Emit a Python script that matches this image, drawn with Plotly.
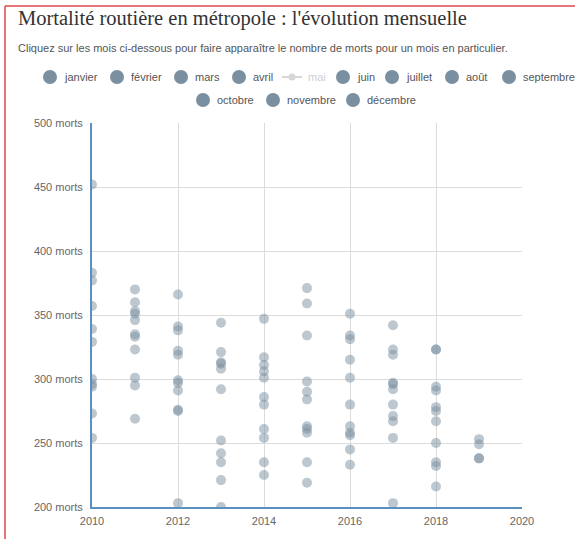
import plotly.graph_objects as go

# ---------------- data ----------------
years = [2010, 2011, 2012, 2013, 2014, 2015, 2016, 2017, 2018, 2019]
months = ["janvier", "février", "mars", "avril", "mai", "juin", "juillet",
          "août", "septembre", "octobre", "novembre", "décembre"]

janvier   = [273, 301, 276, 235, 254, 235, 245, 267, 235, 238]
fevrier   = [254, 269, 203, 200, 225, 219, 233, 203, 216, 238]
mars      = [296, 295, 291, 221, 235, 258, 256, 254, 232, 249]
avril     = [294, 323, 275, 242, 261, 263, 258, 271, 250, 253]
mai       = [340, 327, 326, 228, 261, 289, 310, 304, 264, None]
juin      = [357, 346, 341, 292, 311, 290, 315, 319, 275, None]
juillet   = [383, 353, 366, 344, 347, 371, 334, 342, 323, None]
aout      = [452, 370, 338, 321, 306, 359, 351, 323, 323, None]
septembre = [339, 360, 322, 313, 317, 298, 331, 296, 294, None]
octobre   = [329, 351, 319, 312, 301, 334, 301, 297, 291, None]
novembre  = [300, 333, 297, 252, 280, 261, 263, 280, 278, None]
decembre  = [377, 335, 299, 308, 286, 284, 280, 292, 267, None]

series = [janvier, fevrier, mars, avril, mai, juin, juillet, aout,
          septembre, octobre, novembre, decembre]

y_ticks = [200, 250, 300, 350, 400, 450, 500]
y_tick_labels = [f"{v} morts" for v in y_ticks]
x_ticks = [2010, 2012, 2014, 2016, 2018, 2020]

# ---------------- style ----------------
W, H = 575, 539
L, R, T, B = 92, 53, 123, 32
PW, PH = W - L - R, H - T - B
SLATE = "#7a8fa0"
FONT = "Arial, Liberation Sans, sans-serif"


def px(x):
    return (x - L) / PW


def py(y):
    return (H - B - y) / PH


fig = go.Figure()
for name, vals in zip(months, series):
    fig.add_trace(go.Scatter(
        x=years, y=vals, name=name, mode="markers",
        visible="legendonly" if name == "mai" else True,
        marker=dict(size=10, color=SLATE, opacity=0.5, line=dict(width=0)),
        hovertemplate="%{x} – " + name + " : %{y} morts<extra></extra>",
        showlegend=False,
    ))

annotations = []
shapes = []

# title and subtitle
annotations.append(dict(
    text="Mortalité routière en métropole : l'évolution mensuelle",
    x=px(16), y=py(18), xref="paper", yref="paper", xanchor="left", yanchor="middle",
    showarrow=False, font=dict(family="Liberation Serif, Times New Roman, serif", size=20.5, color="#333333")))
annotations.append(dict(
    text="Cliquez sur les mois ci-dessous pour faire apparaître le nombre de morts pour un mois en particulier.",
    x=px(16), y=py(48), xref="paper", yref="paper", xanchor="left", yanchor="middle",
    showarrow=False, font=dict(family=FONT, size=11, color="#555555")))

# custom legend (circle centre x, row y)
legend_pos = {
    "janvier": (50, 77), "février": (117, 77), "mars": (181, 77), "avril": (239, 77),
    "mai": (292, 77), "juin": (343, 77), "juillet": (392, 77), "août": (452, 77),
    "septembre": (509, 77), "octobre": (203, 100), "novembre": (273, 100), "décembre": (353, 100),
}
for name in months:
    cx, cy = legend_pos[name]
    if name == "mai":
        shapes.append(dict(type="line", xref="paper", yref="paper",
                           x0=px(cx - 10), x1=px(cx + 10), y0=py(cy), y1=py(cy),
                           line=dict(color="#d6d6d6", width=2)))
        shapes.append(dict(type="circle", xref="paper", yref="paper",
                           xsizemode="pixel", ysizemode="pixel",
                           xanchor=px(cx), yanchor=py(cy), x0=-3.5, x1=3.5, y0=-3.5, y1=3.5,
                           fillcolor="#d6d6d6", line=dict(width=0)))
        tx, tcol = cx + 14, "#cfcfcf"
    else:
        shapes.append(dict(type="circle", xref="paper", yref="paper",
                           xsizemode="pixel", ysizemode="pixel",
                           xanchor=px(cx), yanchor=py(cy), x0=-7, x1=7, y0=-7, y1=7,
                           fillcolor=SLATE, line=dict(width=0)))
        tx, tcol = cx + 12, "#555555"
    annotations.append(dict(text=name, x=px(tx), y=py(cy), xref="paper", yref="paper",
                            xanchor="left", yanchor="middle", showarrow=False,
                            font=dict(family=FONT, size=11, color=tcol)))

# red frame of the screenshot
shapes.append(dict(type="line", xref="paper", yref="paper", x0=px(5), x1=px(575), y0=py(6), y1=py(6),
                   line=dict(color="#e0474c", width=1.5), layer="above"))
shapes.append(dict(type="line", xref="paper", yref="paper", x0=px(5), x1=px(5), y0=py(6), y1=py(539),
                   line=dict(color="#e0474c", width=1.5), layer="above"))

fig.update_layout(
    width=W, height=H,
    margin=dict(l=L, r=R, t=T, b=B, pad=0),
    paper_bgcolor="white", plot_bgcolor="white",
    showlegend=False,
    annotations=annotations, shapes=shapes,
    font=dict(family=FONT, size=11, color="#666666"),
    xaxis=dict(range=[2010, 2020], tickvals=x_ticks, ticktext=[str(v) for v in x_ticks],
               showgrid=True, gridcolor="#dcdcdc", gridwidth=1, zeroline=False,
               showline=True, linecolor="#5b8fc0", linewidth=2,
               ticks="outside", ticklen=3, tickcolor="rgba(0,0,0,0)",
               tickfont=dict(size=11, color="#666666"), fixedrange=True),
    yaxis=dict(range=[200, 500], tickvals=y_ticks, ticktext=y_tick_labels,
               showgrid=True, gridcolor="#dcdcdc", gridwidth=1, zeroline=False,
               showline=True, linecolor="#5b8fc0", linewidth=2,
               ticks="outside", ticklen=5, tickcolor="rgba(0,0,0,0)",
               tickfont=dict(size=11, color="#666666"), fixedrange=True),
)

fig.write_html("out.html", config={"displayModeBar": False},
               post_script="document.body.style.margin='0';document.body.style.overflow='hidden';")
